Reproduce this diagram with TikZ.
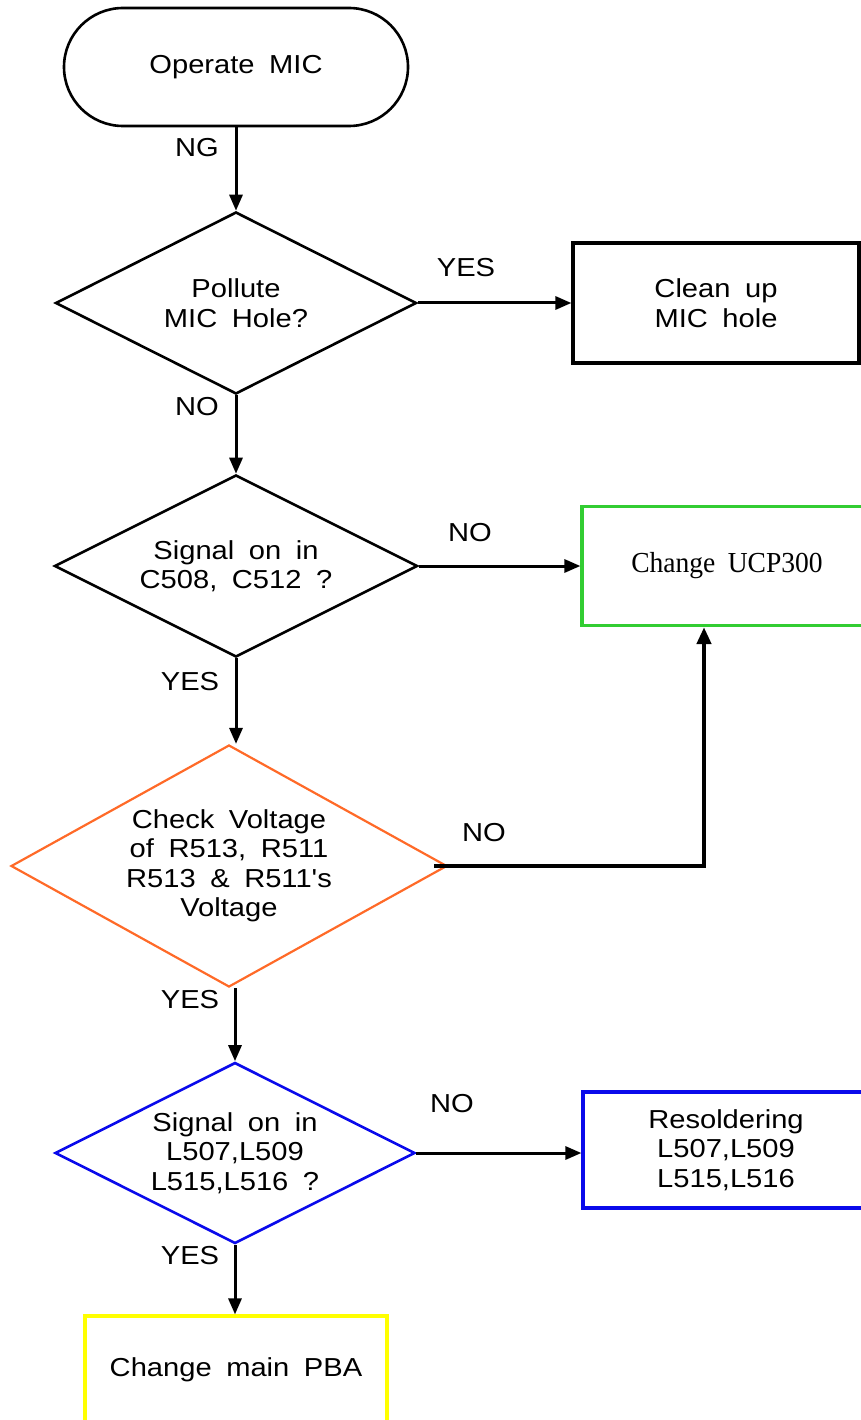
\documentclass[tikz,border=0pt]{standalone}
\usepackage{fontspec}
\setmainfont{Liberation Sans}[FakeStretch=1.12, WordSpace=1.8, Ligatures=TeXOff]
\newfontfamily\ucpfont{Liberation Serif}[FakeStretch=0.95, WordSpace=1.8]
\usetikzlibrary{shapes.geometric,shapes.misc,arrows.meta}
\definecolor{okgreen}{RGB}{50,205,50}
\definecolor{chkorange}{RGB}{255,106,40}
\definecolor{solblue}{RGB}{10,10,235}
\definecolor{pbayellow}{RGB}{255,255,0}
\tikzset{
  every node/.style={font=\fontsize{26}{29.5}\selectfont, align=center},
  term/.style={rounded rectangle, draw=black, line width=2.6pt, minimum width=344pt, minimum height=118pt, inner sep=0pt},
  decide/.style={diamond, draw=black, line width=2.6pt, inner sep=0pt},
  actbox/.style={rectangle, draw=black, line width=3.2pt, inner sep=0pt},
  flow/.style={line width=3pt, -{Triangle[length=16pt,width=13pt]}},
  heavyflow/.style={line width=4.6pt, -{Triangle[length=17pt,width=14pt]}},
  tag/.style={inner sep=0pt}
}
\begin{document}
\begin{tikzpicture}[x=1pt,y=-1pt]
\useasboundingbox (0,0) rectangle (861,1420);
\clip (0,0) rectangle (861,1420);

\node[term] (start) at (236,67) {Operate MIC};

\node[decide, minimum width=361pt, minimum height=182pt, aspect=2] (d1) at (236,303) {Pollute\\MIC Hole?};
\node[actbox, minimum width=286pt, minimum height=120pt] (clean) at (716,303) {Clean up\\MIC hole};

\node[decide, minimum width=363pt, minimum height=182pt, aspect=2] (d2) at (236,566) {Signal on in\\C508, C512 ?};
\node[actbox, draw=okgreen, minimum width=290pt, minimum height=119pt] (ucp) at (727,566) {\ucpfont\fontsize{29}{33}\selectfont Change UCP300};

\node[decide, draw=chkorange, line width=2.2pt, minimum width=436pt, minimum height=242pt, aspect=1.8] (d3) at (229,866) {Check Voltage\\of R513, R511\\R513 \& R511's\\Voltage};

\node[decide, draw=solblue, line width=2.6pt, minimum width=360pt, minimum height=181pt, aspect=2] (d4) at (235,1153) {Signal on in\\L507,L509\\L515,L516 ?};
\node[actbox, draw=solblue, minimum width=286pt, minimum height=116pt] (resold) at (726,1150) {Resoldering\\L507,L509\\L515,L516};

\node[actbox, draw=pbayellow, minimum width=302pt, minimum height=108pt] (pba) at (236,1370) {Change main PBA};

% connectors
\draw[flow] (start.south) -- (d1.north);
\draw[flow] (d1.east) -- (clean.west);
\draw[flow] (d1.south) -- (d2.north);
\draw[flow] (d2.east) -- (ucp.west);
\draw[flow] (d2.south) -- (d2.south |- d3.north);
\draw[heavyflow] ([xshift=-14pt]d3.east) -| ([xshift=-23pt]ucp.south);
\draw[flow] ([xshift=6pt]d3.south) -- ([xshift=6pt]d3.south |- d4.north);
\draw[flow] (d4.east) -- (d4.east -| resold.west);
\draw[flow] (d4.south) -- (d4.south |- pba.north);

% labels
\node[tag] (lng) at (197,148) {NG};
\node[tag] (lyes1) at (466,268) {YES};
\node[tag] (lno1) at (197,407) {NO};
\node[tag] (lno2) at (470,533) {NO};
\node[tag] (lyes2) at (190,682) {YES};
\node[tag] (lno3) at (484,833) {NO};
\node[tag] (lyes3) at (190,1000) {YES};
\node[tag] (lno4) at (452,1104) {NO};
\node[tag] (lyes4) at (190,1256) {YES};
\end{tikzpicture}
\end{document}
